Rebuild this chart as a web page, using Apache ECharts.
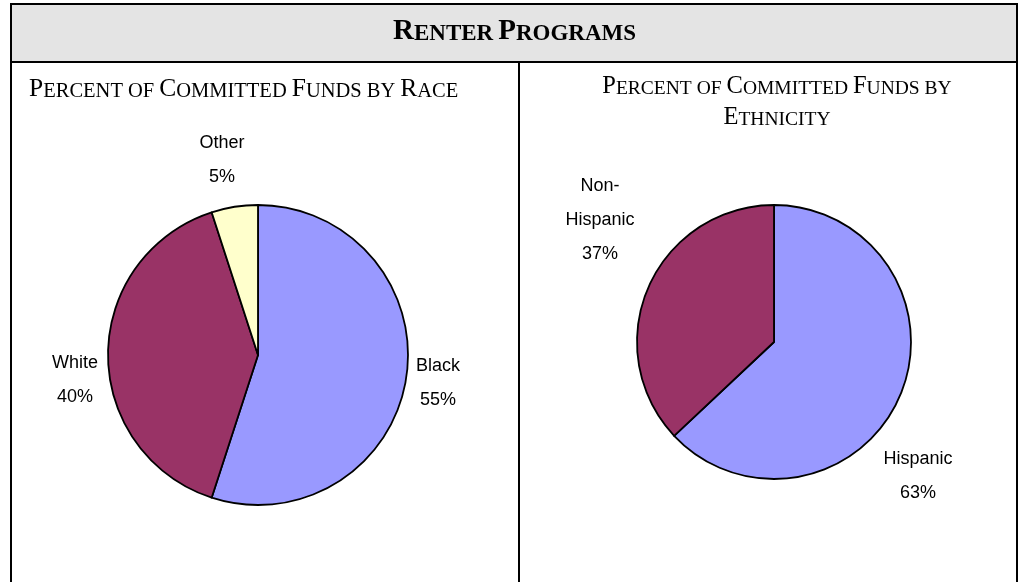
<!DOCTYPE html>
<html>
<head>
<meta charset="utf-8">
<script src="https://cdn.jsdelivr.net/npm/echarts@6/dist/echarts.min.js"></script>
<style>
  html, body { margin: 0; padding: 0; background: #fff; }
  #main { width: 1029px; height: 582px; }
</style>
</head>
<body>
<div id="main"></div>
<script>
// data
const raceNames = ['Black', 'White', 'Other'];
const raceValues = [55, 40, 5];
const ethnicityNames = ['Hispanic', 'Non-Hispanic'];
const ethnicityValues = [63, 37];

const sliceColors = ['#9999FF', '#993366', '#FFFFCC'];
const labelFont = "'Liberation Sans', Arial, sans-serif";
const serifFont = "'Liberation Serif', 'Times New Roman', serif";

// label offsets from pie centre (Excel placed them by hand)
const raceLabelOffsets = [[180, 28], [-183, 25], [-36, -195]];
const ethLabelOffsets = [[144, 134], [-174, -122]];

const raceCenter = [258, 355], raceRadius = 150;
const ethCenter = [774, 342], ethRadius = 137;

function pieData(names, values) {
  return names.map((n, i) => ({ name: n, value: values[i], itemStyle: { color: sliceColors[i] } }));
}

function makePie(names, values, center, radius, offsets) {
  return {
    type: 'pie',
    center: center,
    radius: radius,
    startAngle: 90,
    clockwise: true,
    animation: false,
    silent: true,
    data: pieData(names, values),
    itemStyle: { borderColor: '#000', borderWidth: 1.8 },
    label: {
      show: true,
      position: 'outside',
      formatter: (p) => p.name.replace('-', '-\n') + '\n' + p.percent.toFixed(0) + '%',
      fontFamily: labelFont,
      fontSize: 18,
      lineHeight: 34,
      width: 120,
      overflow: 'none',
      align: 'center',
      color: '#000'
    },
    labelLine: { show: false },
    labelLayout: (p) => ({
      x: center[0] + offsets[p.dataIndex][0],
      y: center[1] + offsets[p.dataIndex][1],
      align: 'center',
      verticalAlign: 'middle'
    })
  };
}

const capsRich = (big, small, bold, lh) => ({
  a: { fontFamily: serifFont, fontSize: big, fontWeight: bold ? 'bold' : 'normal', color: '#000', verticalAlign: 'bottom', lineHeight: lh || big },
  b: { fontFamily: serifFont, fontSize: small, fontWeight: bold ? 'bold' : 'normal', color: '#000', verticalAlign: 'bottom', lineHeight: lh || big }
});

const chart = echarts.init(document.getElementById('main'), null, { renderer: 'canvas' });

chart.setOption({
  backgroundColor: '#fff',
  animation: false,
  title: [
    {
      text: '{a|R}{b|ENTER} {a|P}{b|ROGRAMS}',
      left: 'center',
      top: 12,
      textStyle: { rich: capsRich(29, 23, true) }
    },
    {
      text: '{a|P}{b|ERCENT OF} {a|C}{b|OMMITTED} {a|F}{b|UNDS BY} {a|R}{b|ACE}',
      left: 24,
      top: 72,
      textStyle: { rich: capsRich(25.5, 20.5, false) }
    },
    {
      text: '{a|P}{b|ERCENT OF} {a|C}{b|OMMITTED} {a|F}{b|UNDS BY}\n{a|E}{b|THNICITY}',
      left: 772,
      textAlign: 'center',
      top: 63,
      textStyle: { rich: capsRich(24.5, 19.5, false, 31) }
    }
  ],
  graphic: [
    { type: 'rect', shape: { x: 11, y: 4, width: 1006, height: 58 }, style: { fill: '#e4e4e4', stroke: '#000', lineWidth: 2 }, z: -1 },
    { type: 'line', shape: { x1: 11, y1: 62, x2: 11, y2: 582 }, style: { stroke: '#000', lineWidth: 2 } },
    { type: 'line', shape: { x1: 519, y1: 62, x2: 519, y2: 582 }, style: { stroke: '#000', lineWidth: 2 } },
    { type: 'line', shape: { x1: 1017, y1: 62, x2: 1017, y2: 582 }, style: { stroke: '#000', lineWidth: 2 } }
  ],
  series: [
    makePie(raceNames, raceValues, raceCenter, raceRadius, raceLabelOffsets),
    makePie(ethnicityNames, ethnicityValues, ethCenter, ethRadius, ethLabelOffsets)
  ]
});
</script>
</body>
</html>
